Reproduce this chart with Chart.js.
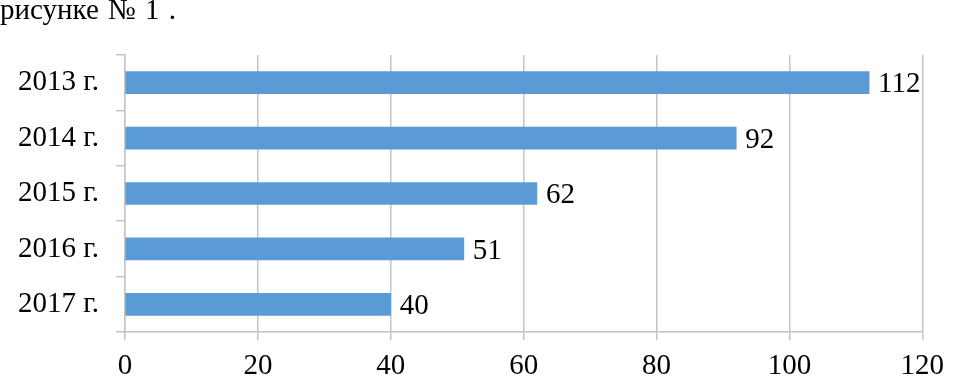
<html>
<head>
<meta charset="UTF-8" />
<script src="https://cdn.jsdelivr.net/npm/chart.js"></script>
<style>
  body {
    margin: 0;
    padding: 0;
    background: #ffffff;
  }
  .wrap {
    position: relative;
    width: 953px;
    height: 383px;
  }
  .caption {
    position: absolute;
    left: 0px;
    top: -7px;
    font-family: "Liberation Serif", "Times New Roman", serif;
    font-size: 29px;
    word-spacing: 2px;
    color: #000000;
  }
</style>
</head>
<body>
<div class="wrap">
  <div class="caption">рисунке № 1 .</div>
  <canvas id="chart" width="953" height="383"></canvas>
</div>
<script>
var years = ["2013 г.", "2014 г.", "2015 г.", "2016 г.", "2017 г."];
var counts = [112, 92, 62, 51, 40];
var xTicks = [0, 20, 40, 60, 80, 100, 120];

var serif = '"Liberation Serif", "Times New Roman", serif';
var gridColor = "#c4c4c4";

// подписи значений справа от столбцов
var valueLabels = {
    id: "valueLabels",
    afterDatasetsDraw: function(chart) {
        var ctx = chart.ctx;
        var meta = chart.getDatasetMeta(0);
        ctx.save();
        ctx.font = "29px " + serif;
        ctx.fillStyle = "#000000";
        ctx.textAlign = "left";
        ctx.textBaseline = "middle";
        meta.data.forEach(function(bar, i) {
            ctx.fillText(String(counts[i]), bar.x + 9, bar.y + 2);
        });
        ctx.restore();
    }
};

new Chart(document.getElementById("chart"), {
    type: "bar",
    data: {
        labels: years,
        datasets: [{
            data: counts,
            backgroundColor: "#5b9bd5",
            borderWidth: 0,
            barThickness: 22
        }]
    },
    options: {
        indexAxis: "y",
        responsive: false,
        animation: false,
        layout: {
            padding: { top: 55, right: 27, left: 0, bottom: 0 }
        },
        plugins: {
            legend: { display: false },
            tooltip: { enabled: false }
        },
        scales: {
            x: {
                min: 0,
                max: 120,
                afterBuildTicks: function(axis) {
                    axis.ticks = xTicks.map(function(v) { return { value: v }; });
                },
                afterFit: function(axis) {
                    axis.height = 51;
                },
                ticks: {
                    color: "#000000",
                    padding: 9,
                    maxRotation: 0,
                    font: { family: serif, size: 29 }
                },
                grid: {
                    color: gridColor,
                    lineWidth: 1.5,
                    tickLength: 8
                },
                border: { color: gridColor, width: 1.5 }
            },
            y: {
                afterFit: function(axis) {
                    axis.width = 125;
                },
                ticks: {
                    color: "#000000",
                    padding: 17,
                    font: { family: serif, size: 29 }
                },
                grid: {
                    drawOnChartArea: false,
                    color: gridColor,
                    lineWidth: 1.5,
                    tickLength: 9
                },
                border: { color: gridColor, width: 1.5 }
            }
        }
    },
    plugins: [valueLabels]
});
</script>
</body>
</html>
